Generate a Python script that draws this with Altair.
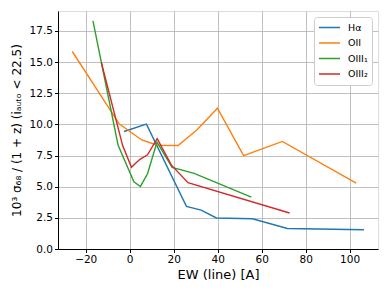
import altair as alt
import pandas as pd

# Series data
ha_x = [-2.6, 7.6, 25.8, 32.5, 39.4, 55.8, 71.7, 106.5]
ha_y = [9.43, 10.02, 3.42, 3.12, 2.49, 2.43, 1.65, 1.55]

oii_x = [-26.1, -4.8, 5.5, 12.5, 22.0, 30.5, 39.9, 51.8, 69.4, 103.0]
oii_y = [15.85, 10.05, 8.75, 8.33, 8.31, 9.55, 11.3, 7.5, 8.63, 5.29]

oiii1_x = [-16.7, -5.3, 1.9, 4.9, 8.1, 12.4, 19.3, 29.3, 55.3]
oiii1_y = [18.3, 8.35, 5.4, 5.02, 6.04, 8.57, 6.55, 6.07, 4.17]

oiii2_x = [-12.9, -3.2, 0.8, 4.5, 8.1, 12.5, 18.9, 26.5, 72.7]
oiii2_y = [14.97, 8.3, 6.56, 7.18, 7.56, 8.85, 6.75, 5.32, 2.89]

names = ["Hα", "OII", "OIII₁", "OIII₂"]
colors = ["#1f77b4", "#ff7f0e", "#2ca02c", "#d62728"]

x_ticks = [-20, 0, 20, 40, 60, 80, 100]
y_ticks = [0.0, 2.5, 5.0, 7.5, 10.0, 12.5, 15.0, 17.5]

rows = []
for name, xs, ys in zip(names, [ha_x, oii_x, oiii1_x, oiii2_x], [ha_y, oii_y, oiii1_y, oiii2_y]):
    for i, (xv, yv) in enumerate(zip(xs, ys)):
        rows.append({"line": name, "ew": xv, "sigma": yv, "idx": i})
df = pd.DataFrame(rows)

FONT = "DejaVu Sans"

chart = alt.Chart(df).mark_line(strokeWidth=1.4, clip=True).encode(
    x=alt.X("ew:Q",
            scale=alt.Scale(domain=[-32.6, 112.9], nice=False, zero=False),
            axis=alt.Axis(values=x_ticks, title="EW (line) [A]", format="d",
                          labelFontSize=10.5, titleFontSize=13, titleFontWeight="normal",
                          titlePadding=3, tickSize=3.5, labelPadding=2,
                          domainColor="black", tickColor="black",
                          gridColor="#b0b0b0", gridWidth=0.8,
                          labelColor="black", titleColor="black")),
    y=alt.Y("sigma:Q",
            scale=alt.Scale(domain=[0, 19.1], nice=False, zero=False),
            axis=alt.Axis(values=y_ticks, format=".1f",
                          title="10³ σ₆₈ / (1 + z) (iₐᵤₜₒ < 22.5)",
                          labelFontSize=10.5, titleFontSize=12, titleFontWeight="normal",
                          titleX=-35, titleY=119,
                          tickSize=3.5, labelPadding=2,
                          domainColor="black", tickColor="black",
                          gridColor="#b0b0b0", gridWidth=0.8,
                          labelColor="black", titleColor="black")),
    color=alt.Color("line:N",
                    scale=alt.Scale(domain=names, range=colors),
                    sort=names,
                    legend=alt.Legend(title=None, orient="none", legendX=256, legendY=6,
                                      symbolType="stroke", symbolSize=441,
                                      symbolStrokeWidth=1.6, clipHeight=13,
                                      rowPadding=2.5, labelFontSize=9.5, labelOffset=7,
                                      labelColor="black",
                                      fillColor="white", strokeColor="#cccccc",
                                      cornerRadius=3, padding=4)),
    order="idx:Q",
).properties(
    width=320, height=238,
    autosize=alt.AutoSizeParams(type="none"),
    padding={"left": 50, "top": 3, "right": 4, "bottom": 36},
).configure_view(
    stroke="black", strokeWidth=1
).configure(
    font=FONT
)

chart.save("out.html", embed_options={"renderer": "svg", "actions": False})
